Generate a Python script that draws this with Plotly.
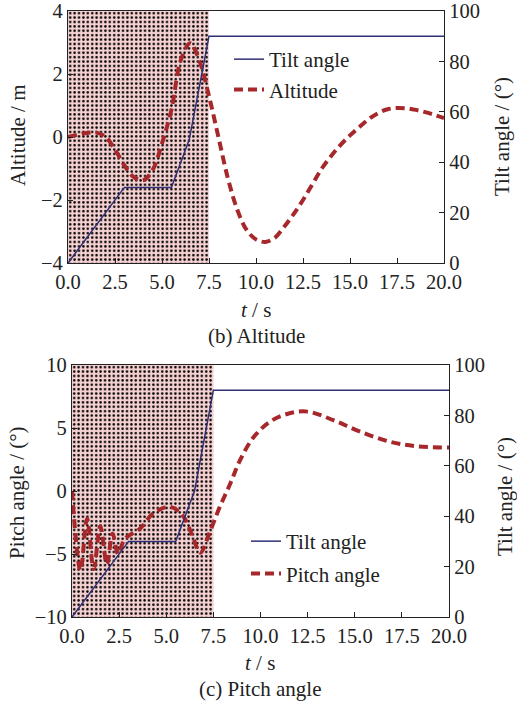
import plotly.graph_objects as go

# ---------------- data ----------------
shade_interval = [0.0, 7.5]

tilt_t_b = [0, 3.0, 5.5, 6.45, 7.5, 20.0]
tilt_v_b = [0, 30, 30, 49, 90, 90]

alt_t = [0, 0.5, 1, 1.5, 2, 2.5, 3, 3.5, 4, 4.5, 5, 5.5, 6, 6.5, 7, 7.5, 8, 8.5, 9, 9.5,
         10, 10.5, 11, 11.5, 12, 12.5, 13, 13.5, 14, 14.5, 15, 15.5, 16, 16.5, 17, 17.5,
         18, 18.5, 19, 19.5, 20]
alt_v = [0, 0.07, 0.13, 0.14, 0.0, -0.4, -0.9, -1.27, -1.37, -1.05, -0.2, 0.86, 2.44, 2.98,
         2.4, 1.3, 0.0, -1.3, -2.3, -2.95, -3.25, -3.33, -3.2, -2.85, -2.45, -2.0, -1.5,
         -1.0, -0.6, -0.25, 0.05, 0.32, 0.57, 0.76, 0.88, 0.92, 0.91, 0.86, 0.79, 0.7, 0.6]

tilt_t_c = [0, 3.0, 5.5, 6.5, 7.5, 20.0]
tilt_v_c = [0, 30, 30, 50, 90, 90]

pitch_t = [0, 0.45, 0.8, 1.15, 1.5, 1.85, 2.15, 2.45, 2.8, 3.6, 4.3, 5.2, 5.9, 6.4, 6.8,
           7.3, 7.8, 8.4, 8.9, 9.6, 10.5, 11.5, 12.5, 13.9, 15.3, 16.9, 18.3, 20.0]
pitch_v = [0, -6.3, -2.2, -6.2, -2.8, -5.8, -3.4, -5.0, -3.8, -3.0, -1.8, -1.25, -2.0,
           -3.6, -4.9, -3.3, -1.4, 0.6, 2.4, 4.2, 5.5, 6.15, 6.3, 5.6, 4.7, 3.9, 3.55, 3.45]

x_ticks = [0, 2.5, 5, 7.5, 10, 12.5, 15, 17.5, 20]
alt_range = [-4, 4]
pitch_range = [-10, 10]
tilt_range = [0, 100]

# ---------------- style ----------------
FONT = "Liberation Serif"
RED = "#a6282b"
NAVY = "#2e2f74"
W, H = 517, 706

def px_x(p):
    return p / W

def px_y(p):
    return 1 - p / H

fig = go.Figure()

def shade(xa, ya, yr):
    fig.add_trace(go.Scatter(
        x=[shade_interval[0], shade_interval[1], shade_interval[1], shade_interval[0], shade_interval[0]],
        y=[yr[0], yr[0], yr[1], yr[1], yr[0]],
        xaxis=xa, yaxis=ya, mode="lines", line=dict(width=0),
        fill="toself", fillcolor="#f5d0d1",
        fillpattern=dict(shape=".", bgcolor="#f5d0d1", fgcolor="#000000", size=4.4, solidity=0.25),
        showlegend=False, hoverinfo="skip"))

# top chart
shade("x", "y", alt_range)
fig.add_trace(go.Scatter(x=tilt_t_b, y=tilt_v_b, xaxis="x", yaxis="y2", mode="lines",
                         line=dict(color=NAVY, width=1.5), name="Tilt angle",
                         legend="legend", legendgroup="a"))
fig.add_trace(go.Scatter(x=alt_t, y=alt_v, xaxis="x", yaxis="y", mode="lines",
                         line=dict(color=RED, width=4, dash="9px,5px", shape="spline"),
                         name="Altitude", legend="legend", legendgroup="b"))

# bottom chart
shade("x2", "y3", pitch_range)
fig.add_trace(go.Scatter(x=tilt_t_c, y=tilt_v_c, xaxis="x2", yaxis="y4", mode="lines",
                         line=dict(color=NAVY, width=1.5), name="Tilt angle",
                         legend="legend2", legendgroup="c"))
fig.add_trace(go.Scatter(x=pitch_t, y=pitch_v, xaxis="x2", yaxis="y3", mode="lines",
                         line=dict(color=RED, width=4, dash="9px,5px", shape="spline"),
                         name="Pitch angle", legend="legend2", legendgroup="d"))

tickfont = dict(family=FONT, size=20.5, color="#222")
axis_common = dict(showline=True, linecolor="#222", linewidth=1.2, ticks="inside",
                   ticklen=5, tickcolor="#222", showgrid=False, zeroline=False,
                   tickfont=tickfont, automargin=False)

top_x = [px_x(68), px_x(444)]
top_y = [px_y(263), px_y(11)]
bot_x = [px_x(72), px_x(449)]
bot_y = [px_y(617), px_y(365)]

fig.update_layout(
    template="none",
    width=W, height=H, autosize=False,
    margin=dict(l=0, r=0, t=0, b=0, pad=0, autoexpand=False),
    paper_bgcolor="white", plot_bgcolor="white",
    font=dict(family=FONT, size=21, color="#222"),
    xaxis=dict(domain=top_x, anchor="y", range=[0, 20], tickvals=x_ticks,
               tickformat=".1f", mirror=True, **axis_common),
    yaxis=dict(domain=top_y, anchor="x", range=alt_range, tickvals=[-4, -2, 0, 2, 4],
               mirror=True, **axis_common),
    yaxis2=dict(overlaying="y", anchor="x", side="right", range=tilt_range,
                tickvals=[0, 20, 40, 60, 80, 100], **axis_common),
    xaxis2=dict(domain=bot_x, anchor="y3", range=[0, 20], tickvals=x_ticks,
                tickformat=".1f", mirror=True, **axis_common),
    yaxis3=dict(domain=bot_y, anchor="x2", range=pitch_range, tickvals=[-10, -5, 0, 5, 10],
                mirror=True, **axis_common),
    yaxis4=dict(overlaying="y3", anchor="x2", side="right", range=tilt_range,
                tickvals=[0, 20, 40, 60, 80, 100], **axis_common),
    legend=dict(x=px_x(229), y=px_y(39), xanchor="left", yanchor="top",
                bgcolor="rgba(0,0,0,0)", borderwidth=0, font=dict(family=FONT, size=21),
                traceorder="grouped", tracegroupgap=0),
    legend2=dict(x=px_x(246), y=px_y(521), xanchor="left", yanchor="top",
                 bgcolor="rgba(0,0,0,0)", borderwidth=0, font=dict(family=FONT, size=21),
                 traceorder="grouped", tracegroupgap=2),
)

ann = [
    dict(text="Altitude / m", x=px_x(18), y=px_y(135), textangle=-90),
    dict(text="Tilt angle / (°)", x=px_x(502), y=px_y(137), textangle=-90),
    dict(text="<i>t</i> / s", x=px_x(256), y=px_y(310)),
    dict(text="(b) Altitude", x=px_x(256), y=px_y(336)),
    dict(text="Pitch angle / (°)", x=px_x(17), y=px_y(493), textangle=-90),
    dict(text="Tilt angle / (°)", x=px_x(505), y=px_y(497), textangle=-90),
    dict(text="<i>t</i> / s", x=px_x(260), y=px_y(663)),
    dict(text="(c) Pitch angle", x=px_x(260), y=px_y(689)),
]
for a in ann:
    fig.add_annotation(xref="paper", yref="paper", showarrow=False,
                       xanchor="center", yanchor="middle",
                       font=dict(family=FONT, size=21, color="#222"), **a)

fig.write_html("out.html")
